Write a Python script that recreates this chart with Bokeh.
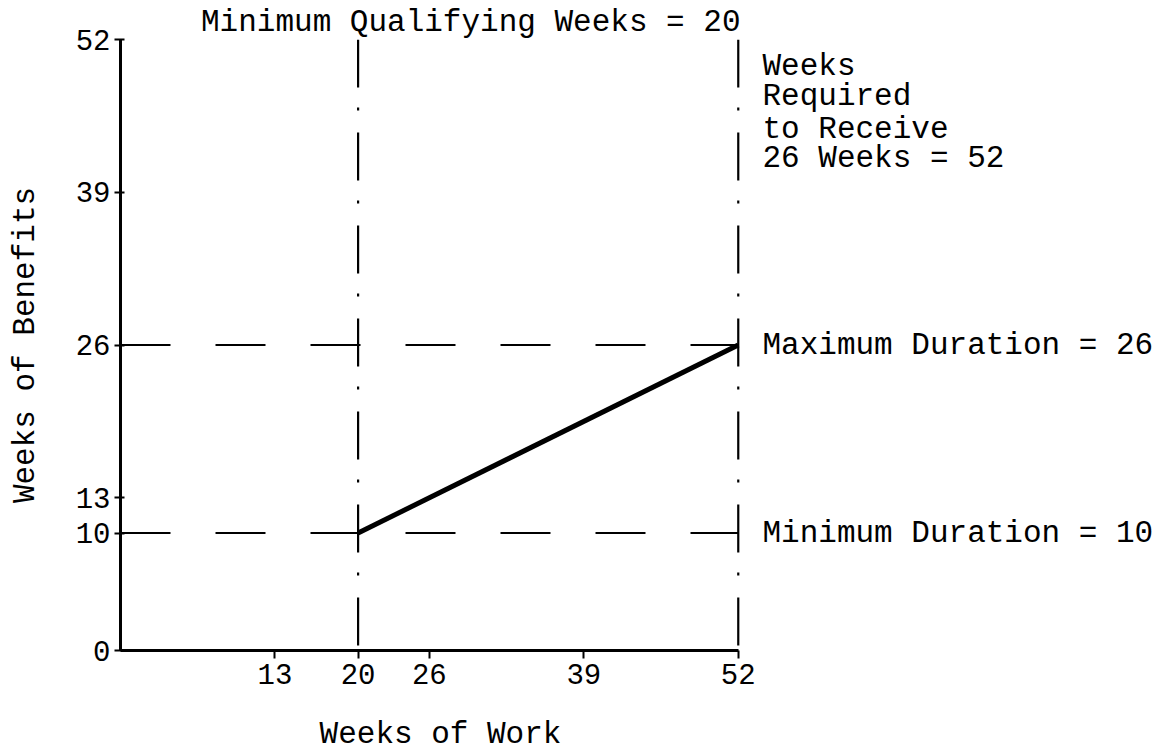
from bokeh.plotting import figure
from bokeh.models import Range1d, FixedTicker, LinearAxis
from bokeh.embed import file_html
from bokeh.resources import INLINE

# ---- data ----
x_ticks = [13, 20, 26, 39, 52]
y_ticks = [0, 10, 13, 26, 39, 52]
axis_max = 52
min_qualifying_weeks = 20
weeks_required_full = 52
min_duration = 10
max_duration = 26
benefit_weeks_work = [20, 52]
benefit_weeks_benefit = [10, 26]

title_text = "Minimum Qualifying Weeks = 20"
right_note_lines = ["Weeks", "Required", "to Receive", "26 Weeks = 52"]
right_note_levels = [49.66, 47.15, 44.38, 41.83]   # vertical placement of the note lines
max_label = "Maximum Duration = 26"
min_label = "Minimum Duration = 10"
x_label = "Weeks of Work"
y_label = "Weeks of Benefits"

FONT = "Liberation Mono"
FS = "31px"

PX_PER_X = 11.88
FRAME_RIGHT = 760
p = figure(width=1171, height=755, output_backend="svg", toolbar_location=None,
           x_range=Range1d(0, (FRAME_RIGHT - 120) / PX_PER_X), y_range=Range1d(0, axis_max),
           min_border_left=120, min_border_right=1171 - FRAME_RIGHT,
           min_border_top=39, min_border_bottom=105)
p.outline_line_color = None
p.xgrid.visible = False
p.ygrid.visible = False
p.background_fill_color = "white"
p.border_fill_color = "white"

# title placed above the frame, right edge on the x = 52 line
p.title.text = title_text
p.title.align = "right"
p.title.offset = FRAME_RIGHT - 740
p.title.standoff = 0
p.title.vertical_align = "bottom"
p.title.text_font = FONT
p.title.text_font_size = FS
p.title.text_font_style = "normal"
p.title.text_color = "black"

for ax, ticks in ((p.xaxis[0], x_ticks), (p.yaxis[0], y_ticks)):
    ax.ticker = FixedTicker(ticks=ticks)
    ax.bounds = (0, axis_max)
    ax.axis_line_width = 3
    ax.axis_line_color = "black"
    ax.major_tick_line_width = 2
    ax.major_tick_line_color = "black"
    ax.minor_tick_line_color = None
    ax.major_label_text_font = FONT
    ax.major_label_text_font_size = "29px"
    ax.major_label_text_color = "black"
    ax.axis_label_text_font = FONT
    ax.axis_label_text_font_size = FS
    ax.axis_label_text_font_style = "normal"
    ax.axis_label_text_color = "black"
p.xaxis[0].major_tick_out = 8
p.xaxis[0].major_tick_in = 0
p.xaxis[0].major_label_standoff = 5
p.xaxis[0].axis_label = x_label
p.xaxis[0].axis_label_standoff = 30
p.yaxis[0].major_tick_out = 6
p.yaxis[0].major_tick_in = 4
p.yaxis[0].major_label_standoff = 4
p.yaxis[0].axis_label = y_label
p.yaxis[0].axis_label_standoff = 30

# right-hand annotations, set as labels of an unlined axis on the right
note_axis = LinearAxis(
    ticker=FixedTicker(ticks=right_note_levels + [max_duration, min_duration]),
    major_label_overrides={**{lv: t for lv, t in zip(right_note_levels, right_note_lines)},
                           max_duration: max_label, min_duration: min_label},
    axis_line_color=None, major_tick_line_color=None, minor_tick_line_color=None,
    major_tick_in=0, major_tick_out=0, major_label_standoff=2,
    major_label_text_font=FONT, major_label_text_font_size=FS, major_label_text_color="black")
p.add_layout(note_axis, "right")

# horizontal dashed reference lines (min / max duration)
for yv in (max_duration, min_duration):
    p.line([0, weeks_required_full], [yv, yv], line_color="black", line_width=2, line_dash="50 45")

# vertical dash-dot lines (minimum qualifying weeks, weeks for full benefits)
for xv in (min_qualifying_weeks, weeks_required_full):
    p.line([xv, xv], [axis_max, 0], line_color="black", line_width=2.2, line_dash="48 20 3 22")

# benefit schedule
p.line(benefit_weeks_work, benefit_weeks_benefit, line_color="black", line_width=5)

open("out.html", "w").write(file_html(p, INLINE))
